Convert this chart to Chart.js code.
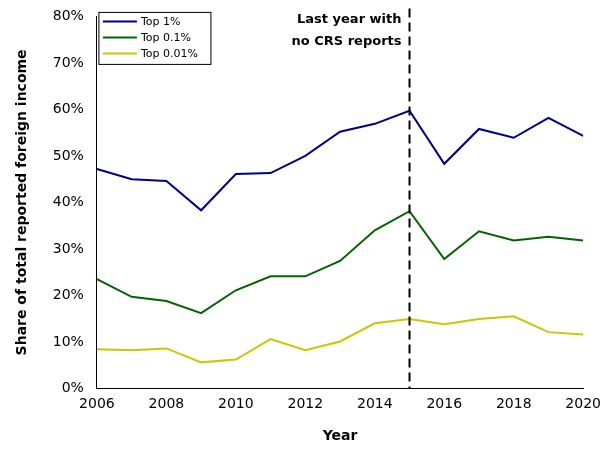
<!DOCTYPE html>
<html>
<head>
<script src="https://cdn.jsdelivr.net/npm/chart.js@4"></script>
<style>
  body { margin: 0; background: #fff; }
  #wrap { width: 604px; height: 455px; }
</style>
</head>
<body>
<div id="wrap"><canvas id="chart"></canvas></div>
<script>
// Data
const years = [2006, 2007, 2008, 2009, 2010, 2011, 2012, 2013, 2014, 2015, 2016, 2017, 2018, 2019, 2020];
const top1 = [47.2, 45, 44.6, 38.3, 46.1, 46.3, 50, 55.2, 56.9, 59.7, 48.3, 55.8, 53.9, 58.2, 54.3];
const top01 = [23.5, 19.7, 18.8, 16.2, 21.1, 24.1, 24.1, 27.4, 34, 38.1, 27.8, 33.8, 31.8, 32.6, 31.8];
const top001 = [8.4, 8.2, 8.6, 5.6, 6.2, 10.6, 8.2, 10.1, 14, 14.9, 13.8, 14.9, 15.5, 12.1, 11.6];
const seriesNames = ["Top 1%", "Top 0.1%", "Top 0.01%"];
const seriesColors = ["#00008b", "#006400", "#c8c800"];
const markerYear = 2015;
const markerText = ["Last year with", "no CRS reports"];

const toPoints = (vals) => vals.map((v, i) => ({ x: years[i], y: v }));

// dashed vertical line, its label and the boxed legend
const overlay = {
  id: "overlay",
  afterDatasetsDraw(chart) {
    const { ctx, chartArea, scales } = chart;
    const x = scales.x.getPixelForValue(markerYear);
    ctx.save();
    ctx.strokeStyle = "#000";
    ctx.lineWidth = 2;
    ctx.setLineDash([9, 5]);
    ctx.beginPath();
    ctx.moveTo(x, chartArea.top - 8);
    ctx.lineTo(x, chartArea.bottom);
    ctx.stroke();
    ctx.setLineDash([]);
    ctx.fillStyle = "#000";
    ctx.font = "bold 13px 'DejaVu Sans'";
    ctx.textAlign = "right";
    ctx.textBaseline = "middle";
    ctx.fillText(markerText[0], x - 8, chartArea.top + 3);
    ctx.fillText(markerText[1], x - 8, chartArea.top + 25);

    // legend
    const lx = chartArea.left + 2, ly = chartArea.top - 4;
    ctx.lineWidth = 1;
    ctx.strokeStyle = "#000";
    ctx.strokeRect(lx, ly, 112, 52);
    ctx.font = "11px 'DejaVu Sans'";
    ctx.textAlign = "left";
    seriesNames.forEach((name, i) => {
      const yy = ly + 9 + i * 16;
      ctx.strokeStyle = seriesColors[i];
      ctx.lineWidth = 2;
      ctx.beginPath();
      ctx.moveTo(lx + 4, yy);
      ctx.lineTo(lx + 38, yy);
      ctx.stroke();
      ctx.fillStyle = "#000";
      ctx.fillText(name, lx + 42, yy + 1);
    });
    ctx.restore();
  },
};

new Chart(document.getElementById("chart"), {
  type: "line",
  data: {
    datasets: [top1, top01, top001].map((vals, i) => ({
      label: seriesNames[i],
      data: toPoints(vals),
      borderColor: seriesColors[i],
      borderWidth: 2,
      pointRadius: 0,
      tension: 0,
    })),
  },
  options: {
    responsive: true,
    maintainAspectRatio: false,
    animation: false,
    layout: { padding: { top: 13, right: 18, left: 0, bottom: 8 } },
    plugins: { legend: { display: false }, tooltip: { enabled: false } },
    scales: {
      x: {
        type: "linear",
        min: 2006,
        max: 2020,
        grid: { display: false, drawTicks: true, tickLength: 5, color: "#000" },
        border: { color: "#000", width: 1 },
        ticks: { stepSize: 2, color: "#000", font: { family: "DejaVu Sans", size: 14 }, callback: (v) => String(v) },
        title: { display: true, padding: { top: 12, bottom: 2 }, text: "Year", color: "#000", font: { family: "DejaVu Sans", size: 14, weight: "bold" } },
      },
      y: {
        min: 0,
        max: 80,
        grid: { display: false, drawTicks: true, tickLength: 5, color: "#000" },
        border: { color: "#000", width: 1 },
        ticks: { stepSize: 10, padding: 8, color: "#000", font: { family: "DejaVu Sans", size: 14 }, callback: (v) => v + "%" },
        title: { display: true, padding: 14, text: "Share of total reported foreign income", color: "#000", font: { family: "DejaVu Sans", size: 14, weight: "bold" } },
      },
    },
  },
  plugins: [overlay],
});
</script>
</body>
</html>
